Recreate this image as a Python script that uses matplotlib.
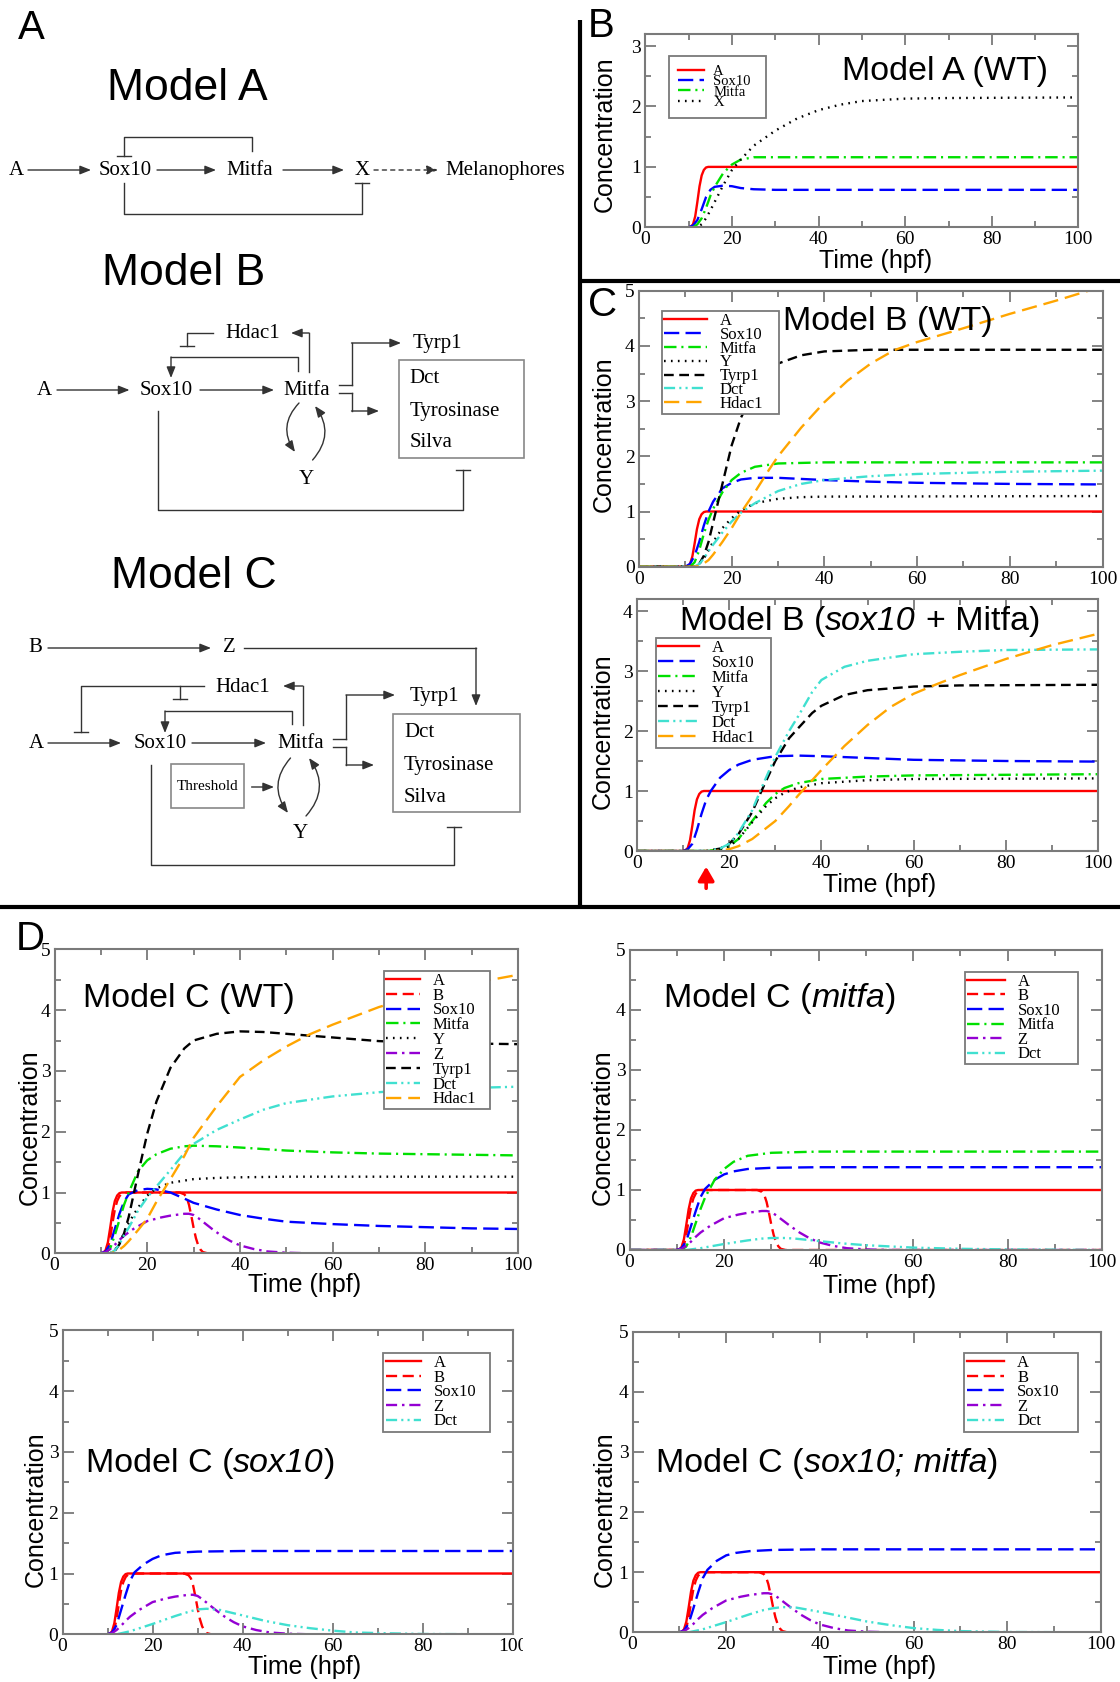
import matplotlib
matplotlib.use("Agg")
import matplotlib.pyplot as plt
from matplotlib.ticker import MultipleLocator, FormatStrFormatter
from matplotlib.patches import Rectangle

plt.rcParams['lines.scale_dashes'] = False
plt.rcParams['font.family'] = 'Liberation Serif'

W, H = 1120, 1682

# ---------------- data (time in hpf, concentration) ----------------
# clamped inputs shared by the models
T_A = [0, 10, 10.5, 11, 11.5, 12, 12.5, 13, 13.5, 14, 14.5, 100]
V_A = [0, 0, 0.01, 0.05, 0.18, 0.42, 0.68, 0.86, 0.95, 0.99, 1.0, 1.0]
T_B = [0, 10.5, 11, 11.5, 12, 12.5, 13, 13.5, 14, 14.5, 15, 27, 28, 28.5, 29, 29.5, 30, 30.5, 31, 31.5, 32, 33, 100]
V_B = [0, 0, 0.02, 0.08, 0.25, 0.5, 0.72, 0.86, 0.94, 0.98, 1.0, 1.0, 0.97, 0.92, 0.8, 0.62, 0.42, 0.25, 0.13, 0.06, 0.02, 0, 0]
T_Z = [0, 10, 11, 12, 13, 14, 15, 17, 20, 23, 25, 28, 29, 30, 31, 32, 34, 36, 38, 40, 43, 46, 50, 55, 100]
V_Z = [0, 0, 0.02, 0.07, 0.14, 0.22, 0.29, 0.4, 0.53, 0.59, 0.62, 0.65, 0.65, 0.63, 0.58, 0.52, 0.4, 0.29, 0.2, 0.13, 0.07, 0.03, 0.01, 0, 0]

# Model A (WT)
TA_SOX = [0, 10, 11, 12, 13, 14, 15, 16, 18, 20, 22, 25, 30, 40, 100]
VA_SOX = [0, 0, 0.03, 0.12, 0.3, 0.5, 0.62, 0.67, 0.69, 0.68, 0.65, 0.63, 0.62, 0.62, 0.62]
TA_MIT = [0, 11, 12, 13, 14, 15, 16, 18, 20, 22, 25, 30, 100]
VA_MIT = [0, 0, 0.05, 0.15, 0.32, 0.52, 0.67, 0.9, 1.04, 1.12, 1.16, 1.16, 1.16]
TA_X = [0, 12, 13, 14, 15, 16, 18, 20, 22, 25, 30, 35, 40, 45, 50, 60, 70, 100]
VA_X = [0, 0, 0.05, 0.15, 0.28, 0.42, 0.7, 0.95, 1.12, 1.35, 1.6, 1.8, 1.94, 2.03, 2.09, 2.13, 2.14, 2.15]

# Model B (WT)
TB_SOX = [0, 10, 11, 12, 13, 14, 15, 16, 18, 20, 22, 25, 30, 35, 40, 50, 60, 80, 100]
VB_SOX = [0, 0, 0.05, 0.2, 0.45, 0.75, 1.0, 1.18, 1.42, 1.52, 1.58, 1.61, 1.61, 1.59, 1.57, 1.54, 1.52, 1.5, 1.49]
TB_MIT = [0, 11, 12, 13, 14, 15, 16, 18, 20, 22, 25, 30, 40, 100]
VB_MIT = [0, 0, 0.08, 0.3, 0.6, 0.85, 1.05, 1.35, 1.57, 1.7, 1.81, 1.87, 1.89, 1.89]
TB_Y = [0, 12, 13, 14, 15, 16, 18, 20, 22, 25, 30, 35, 40, 100]
VB_Y = [0, 0, 0.05, 0.15, 0.3, 0.45, 0.7, 0.88, 1.02, 1.15, 1.23, 1.26, 1.27, 1.28]
TB_TYR = [0, 12, 13, 14, 15, 16, 17, 18, 20, 22, 25, 28, 30, 35, 40, 50, 60, 100]
VB_TYR = [0, 0, 0.05, 0.2, 0.45, 0.8, 1.15, 1.5, 2.2, 2.7, 3.2, 3.55, 3.68, 3.83, 3.9, 3.93, 3.93, 3.93]
TB_DCT = [0, 12, 13, 14, 15, 16, 18, 20, 22, 25, 30, 35, 40, 50, 60, 70, 80, 100]
VB_DCT = [0, 0, 0.05, 0.15, 0.28, 0.4, 0.62, 0.82, 0.98, 1.15, 1.37, 1.5, 1.57, 1.64, 1.68, 1.7, 1.72, 1.74]
TB_HDAC = [0, 12, 13, 14, 15, 16, 18, 20, 22, 25, 28, 30, 35, 40, 45, 50, 55, 60, 70, 80, 90, 97, 100]
VB_HDAC = [0, 0, 0.02, 0.06, 0.12, 0.22, 0.45, 0.7, 0.98, 1.35, 1.75, 2.0, 2.52, 2.98, 3.37, 3.68, 3.92, 4.07, 4.32, 4.58, 4.82, 5.0, 5.05]

# Model B (sox10 + Mitfa)
TR_SOX = [0, 10, 11, 12, 13, 14, 15, 16, 18, 20, 22, 25, 30, 35, 40, 50, 60, 80, 100]
VR_SOX = [0, 0, 0.03, 0.12, 0.35, 0.62, 0.85, 1.0, 1.22, 1.35, 1.44, 1.52, 1.58, 1.59, 1.58, 1.55, 1.52, 1.5, 1.49]
TR_MIT = [0, 15, 18, 20, 22, 25, 28, 30, 32, 35, 40, 50, 60, 100]
VR_MIT = [0, 0, 0.03, 0.08, 0.2, 0.5, 0.8, 0.95, 1.05, 1.13, 1.2, 1.24, 1.26, 1.28]
TR_Y = [0, 15, 18, 20, 22, 25, 28, 30, 32, 35, 40, 50, 60, 100]
VR_Y = [0, 0, 0.03, 0.08, 0.2, 0.48, 0.75, 0.88, 0.97, 1.06, 1.13, 1.18, 1.2, 1.21]
TR_TYR = [0, 15, 18, 20, 22, 25, 27, 30, 33, 35, 38, 40, 45, 50, 60, 70, 100]
VR_TYR = [0, 0, 0.04, 0.12, 0.28, 0.65, 1.0, 1.5, 1.88, 2.05, 2.3, 2.42, 2.6, 2.68, 2.74, 2.76, 2.77]
TR_DCT = [0, 15, 18, 20, 22, 25, 27, 30, 33, 35, 38, 40, 45, 50, 60, 70, 80, 100]
VR_DCT = [0, 0, 0.04, 0.12, 0.3, 0.68, 1.05, 1.57, 2.0, 2.25, 2.65, 2.85, 3.07, 3.17, 3.28, 3.32, 3.35, 3.36]
TR_HDAC = [0, 17, 20, 22, 25, 28, 30, 33, 35, 38, 40, 45, 50, 55, 60, 65, 70, 80, 90, 100]
VR_HDAC = [0, 0, 0.03, 0.08, 0.2, 0.38, 0.5, 0.75, 0.93, 1.18, 1.35, 1.75, 2.1, 2.4, 2.62, 2.78, 2.93, 3.2, 3.43, 3.62]

# Model C (WT)
TC_SOX = [0, 10, 11, 12, 13, 14, 15, 16, 18, 20, 22, 25, 28, 30, 35, 40, 45, 50, 60, 70, 80, 90, 100]
VC_SOX = [0, 0, 0.03, 0.15, 0.4, 0.65, 0.85, 0.97, 1.04, 1.06, 1.05, 1.0, 0.9, 0.83, 0.72, 0.63, 0.57, 0.52, 0.48, 0.45, 0.43, 0.41, 0.40]
TC_MIT = [0, 11, 12, 13, 14, 15, 16, 18, 20, 22, 25, 28, 30, 35, 40, 50, 60, 70, 80, 100]
VC_MIT = [0, 0, 0.08, 0.3, 0.55, 0.8, 1.0, 1.35, 1.53, 1.63, 1.72, 1.76, 1.77, 1.76, 1.74, 1.69, 1.66, 1.64, 1.63, 1.61]
TC_Y = [0, 12, 13, 14, 15, 16, 18, 20, 22, 25, 30, 35, 40, 50, 100]
VC_Y = [0, 0, 0.05, 0.18, 0.33, 0.5, 0.75, 0.95, 1.07, 1.16, 1.22, 1.24, 1.25, 1.26, 1.26]
TC_TYR = [0, 12, 13, 14, 15, 16, 17, 18, 20, 22, 25, 28, 30, 35, 40, 45, 50, 55, 60, 70, 80, 90, 100]
VC_TYR = [0, 0, 0.04, 0.15, 0.33, 0.6, 0.95, 1.3, 1.97, 2.5, 3.05, 3.37, 3.5, 3.61, 3.65, 3.64, 3.61, 3.58, 3.55, 3.49, 3.46, 3.45, 3.44]
TC_DCT = [0, 12, 13, 14, 15, 16, 18, 20, 22, 25, 28, 30, 35, 40, 45, 50, 60, 70, 80, 90, 100]
VC_DCT = [0, 0, 0.05, 0.15, 0.3, 0.42, 0.7, 0.92, 1.1, 1.37, 1.65, 1.8, 2.03, 2.2, 2.36, 2.47, 2.58, 2.65, 2.7, 2.72, 2.74]
TC_HDAC = [0, 12, 13, 14, 15, 16, 18, 20, 22, 25, 28, 30, 35, 40, 45, 50, 55, 60, 70, 80, 90, 100]
VC_HDAC = [0, 0, 0.02, 0.06, 0.12, 0.2, 0.38, 0.57, 0.85, 1.22, 1.6, 1.9, 2.42, 2.9, 3.17, 3.4, 3.6, 3.76, 4.05, 4.27, 4.44, 4.58]

# Model C (mitfa)
TM_SOX = [0, 10, 11, 12, 13, 14, 15, 16, 18, 20, 22, 25, 30, 40, 100]
VM_SOX = [0, 0, 0.03, 0.15, 0.4, 0.65, 0.88, 1.02, 1.17, 1.26, 1.31, 1.35, 1.37, 1.38, 1.38]
TM_MIT = [0, 11, 12, 13, 14, 15, 16, 18, 20, 22, 25, 30, 40, 100]
VM_MIT = [0, 0, 0.06, 0.22, 0.45, 0.68, 0.88, 1.17, 1.35, 1.47, 1.57, 1.62, 1.64, 1.64]
TM_DCT = [0, 12, 15, 20, 25, 28, 30, 33, 35, 40, 45, 50, 55, 60, 70, 80, 100]
VM_DCT = [0, 0, 0.03, 0.1, 0.16, 0.19, 0.2, 0.2, 0.19, 0.15, 0.11, 0.08, 0.06, 0.04, 0.02, 0.01, 0]

# Model C (sox10)
TS_SOX = [0, 10, 11, 12, 13, 14, 15, 16, 18, 20, 22, 25, 30, 40, 100]
VS_SOX = [0, 0, 0.03, 0.15, 0.4, 0.65, 0.88, 1.02, 1.15, 1.24, 1.3, 1.34, 1.36, 1.37, 1.37]
TS_DCT = [0, 12, 15, 20, 25, 28, 30, 32, 35, 40, 45, 50, 55, 60, 65, 70, 80, 100]
VS_DCT = [0, 0, 0.05, 0.17, 0.3, 0.37, 0.41, 0.42, 0.4, 0.31, 0.22, 0.15, 0.1, 0.06, 0.03, 0.02, 0.005, 0]

# Model C (sox10; mitfa)
TD_SOX = [0, 10, 11, 12, 13, 14, 15, 16, 18, 20, 22, 25, 30, 40, 100]
VD_SOX = [0, 0, 0.03, 0.15, 0.4, 0.66, 0.9, 1.04, 1.19, 1.28, 1.32, 1.35, 1.37, 1.38, 1.38]
TD_DCT = [0, 12, 15, 20, 25, 28, 30, 32, 35, 40, 45, 50, 55, 60, 65, 70, 80, 100]
VD_DCT = [0, 0, 0.05, 0.17, 0.3, 0.37, 0.4, 0.42, 0.41, 0.34, 0.26, 0.18, 0.12, 0.07, 0.04, 0.02, 0.005, 0]

# ---------------- styles ----------------
RED, BLUE, GREEN = '#ff0000', '#0000ff', '#00e000'
PURPLE, CYAN, ORANGE = '#9400d3', '#40e0d0', '#ffa500'
STY = {
    'A': dict(color=RED, ls='-'),
    'B': dict(color=RED, ls=(0, (8, 4))),
    'Sox10': dict(color=BLUE, ls=(0, (11, 4.5))),
    'Mitfa': dict(color=GREEN, ls=(0, (9, 3.5, 1.5, 3.5))),
    'X': dict(color='black', ls=(0, (1.2, 3.8))),
    'Y': dict(color='black', ls=(0, (1.2, 3.8))),
    'Z': dict(color=PURPLE, ls=(0, (8, 3.5, 1.8, 3.5))),
    'Tyrp1': dict(color='black', ls=(0, (7, 4))),
    'Dct': dict(color=CYAN, ls=(0, (8, 3, 1.5, 3, 1.5, 3))),
    'Hdac1': dict(color=ORANGE, ls=(0, (11, 5))),
}
LW = 1.7
FRAME = '#7a7a7a'
SANS = 'Liberation Sans'

fig = plt.figure(figsize=(W / 100, H / 100), dpi=100)
fig.patch.set_facecolor('white')


def px_axes(rect):
    l, t, r, b = rect
    return fig.add_axes([l / W, 1 - b / H, (r - l) / W, (b - t) / H])


def style_axes(ax, ymax):
    ax.set_xlim(0, 100)
    ax.set_ylim(0, ymax)
    ax.xaxis.set_major_locator(MultipleLocator(20))
    ax.xaxis.set_minor_locator(MultipleLocator(10))
    ax.yaxis.set_major_locator(MultipleLocator(1))
    ax.yaxis.set_minor_locator(MultipleLocator(0.5))
    ax.xaxis.set_major_formatter(FormatStrFormatter('%d'))
    ax.yaxis.set_major_formatter(FormatStrFormatter('%d'))
    ax.tick_params(which='both', direction='in', top=True, right=True,
                   color=FRAME, width=1.3, labelsize=14, pad=3)
    ax.tick_params(which='major', length=8)
    ax.tick_params(which='minor', length=4.5)
    for sp in ax.spines.values():
        sp.set_color(FRAME)
        sp.set_linewidth(1.5)


def draw(ax, series):
    for name, t, v in series:
        ax.plot(t, v, label=name, lw=LW, **STY[name])


def legend_px(ax, rect, box, fs, hl_px, gap_px, ls, bp):
    l, t, r, b = rect
    bl, bt, br, bb = box
    fpx = fs * 100 / 72
    x0 = (bl - l) / (r - l)
    w = (br - bl) / (r - l)
    ytop = (b - bt) / (b - t)
    leg = ax.legend(loc='upper left', bbox_to_anchor=(x0, ytop - 0.01, w, 0.01),
                    mode='expand', borderaxespad=0,
                    prop={'family': 'Liberation Serif', 'size': fs},
                    handlelength=hl_px / fpx, handletextpad=gap_px / fpx,
                    labelspacing=ls, borderpad=bp, frameon=True, fancybox=False,
                    edgecolor=FRAME, framealpha=1)
    leg.get_frame().set_linewidth(1.3)
    return leg


# B : Model A (WT)
R_B = (645.4, 34, 1078.4, 227.3)
ax = px_axes(R_B)
style_axes(ax, 3.2)
draw(ax, [('A', T_A, V_A), ('Sox10', TA_SOX, VA_SOX), ('Mitfa', TA_MIT, VA_MIT), ('X', TA_X, VA_X)])
legend_px(ax, R_B, (669.5, 56, 766, 119), 10.5, 26, 9, -0.2, 0.6)

# C top : Model B (WT)
R_C1 = (639, 290.7, 1102.5, 566.7)
ax = px_axes(R_C1)
style_axes(ax, 5)
draw(ax, [('A', T_A, V_A), ('Sox10', TB_SOX, VB_SOX), ('Mitfa', TB_MIT, VB_MIT), ('Y', TB_Y, VB_Y),
          ('Tyrp1', TB_TYR, VB_TYR), ('Dct', TB_DCT, VB_DCT), ('Hdac1', TB_HDAC, VB_HDAC)])
legend_px(ax, R_C1, (661.6, 310.7, 778.7, 411.7), 12, 43, 13, -0.125, 0.12)

# C bottom : Model B (sox10 + Mitfa)
R_C2 = (637, 599, 1098, 851)
ax_c2 = px_axes(R_C2)
style_axes(ax_c2, 4.2)
draw(ax_c2, [('A', T_A, V_A), ('Sox10', TR_SOX, VR_SOX), ('Mitfa', TR_MIT, VR_MIT), ('Y', TR_Y, VR_Y),
             ('Tyrp1', TR_TYR, VR_TYR), ('Dct', TR_DCT, VR_DCT), ('Hdac1', TR_HDAC, VR_HDAC)])
legend_px(ax_c2, R_C2, (656, 638, 771, 746), 12, 41, 13, -0.06, 0.12)
ax_c2.annotate('', xy=(15, -0.062), xytext=(15, -0.148),
               xycoords=('data', 'axes fraction'), textcoords=('data', 'axes fraction'),
               annotation_clip=False,
               arrowprops=dict(arrowstyle='-|>,head_length=0.55,head_width=0.32',
                               color='red', lw=2.6, shrinkA=0, shrinkB=0, mutation_scale=15))

# D : Model C (WT)
R_D1 = (54.6, 949.3, 517.9, 1253.3)
ax = px_axes(R_D1)
style_axes(ax, 5)
draw(ax, [('A', T_A, V_A), ('B', T_B, V_B), ('Sox10', TC_SOX, VC_SOX), ('Mitfa', TC_MIT, VC_MIT),
          ('Y', TC_Y, VC_Y), ('Z', T_Z, V_Z), ('Tyrp1', TC_TYR, VC_TYR), ('Dct', TC_DCT, VC_DCT),
          ('Hdac1', TC_HDAC, VC_HDAC)])
legend_px(ax, R_D1, (384, 970.7, 490, 1110), 12, 34, 13, -0.07, 0.12)

# D : Model C (mitfa)
R_D2 = (629.6, 950, 1102, 1250)
ax = px_axes(R_D2)
style_axes(ax, 5)
draw(ax, [('A', T_A, V_A), ('B', T_B, V_B), ('Sox10', TM_SOX, VM_SOX), ('Mitfa', TM_MIT, VM_MIT),
          ('Z', T_Z, V_Z), ('Dct', TM_DCT, VM_DCT)])
legend_px(ax, R_D2, (965, 971.7, 1078, 1062.3), 12, 37.6, 13, -0.087, 0.12)

# D : Model C (sox10)
R_D3 = (62.5, 1330.3, 513, 1634.3)
ax = px_axes(R_D3)
style_axes(ax, 5)
draw(ax, [('A', T_A, V_A), ('B', T_B, V_B), ('Sox10', TS_SOX, VS_SOX), ('Z', T_Z, V_Z), ('Dct', TS_DCT, VS_DCT)])
legend_px(ax, R_D3, (383, 1352.7, 490, 1429.3), 12, 35, 13, -0.087, 0.15)

# D : Model C (sox10; mitfa)
R_D4 = (632.5, 1331.7, 1101, 1632.3)
ax = px_axes(R_D4)
style_axes(ax, 5)
draw(ax, [('A', T_A, V_A), ('B', T_B, V_B), ('Sox10', TD_SOX, VD_SOX), ('Z', T_Z, V_Z), ('Dct', TD_DCT, VD_DCT)])
legend_px(ax, R_D4, (964, 1352.7, 1077.5, 1429.3), 12, 37.7, 13, -0.087, 0.15)

# ---------------- overlay (labels, dividers, diagrams) ----------------
ov = fig.add_axes([0, 0, 1, 1])
ov.set_xlim(0, W)
ov.set_ylim(H, 0)
ov.axis('off')
ov.set_facecolor('none')
renderer = fig.canvas.get_renderer()

TFS = 24.5


def width_of(s, style):
    t = ov.text(0, 0, s, fontsize=TFS, fontfamily=SANS, style=style)
    w = t.get_window_extent(renderer).width
    t.remove()
    return w


SPACE = width_of('a a', 'normal') - width_of('aa', 'normal')


def rich_title(x, y, parts):
    # parts: (text, italic, leading spaces)
    for s, ital, lead in parts:
        st = 'italic' if ital else 'normal'
        x += lead * SPACE
        t = ov.text(x, y, s, fontsize=TFS, fontfamily=SANS, style=st, ha='left', va='baseline')
        x += t.get_window_extent(renderer).width


rich_title(842, 80, [('Model A (WT)', False, 0)])
rich_title(783, 330, [('Model B (WT)', False, 0)])
rich_title(680, 630, [('Model B (', False, 0), ('sox10', True, 0), ('+ Mitfa)', False, 1)])
rich_title(83, 1007, [('Model C (WT)', False, 0)])
rich_title(663.5, 1007, [('Model C (', False, 0), ('mitfa', True, 0), (')', False, 0)])
rich_title(85.7, 1472, [('Model C (', False, 0), ('sox10', True, 0), (')', False, 0)])
rich_title(656, 1472, [('Model C (', False, 0), ('sox10; mitfa', True, 0), (')', False, 0)])

for x, y in [(605, 134), (604, 434), (602.5, 731), (30, 1127), (603, 1127), (35.7, 1509), (604.5, 1509)]:
    ov.text(x, y, 'Concentration', rotation=90, fontsize=18, fontfamily=SANS, ha='center', va='center')
for x, y in [(876, 261), (880, 885), (305, 1285), (880, 1286), (305, 1667), (880, 1667)]:
    ov.text(x, y, 'Time (hpf)', fontsize=18, fontfamily=SANS, ha='center', va='center')

# clipped edge of the lower-left panel in the source composite
ov.add_patch(Rectangle((523, 1636), 40, 22, facecolor='white', edgecolor='none'))

# panel letters
for x, y, s in [(31, 28, 'A'), (601, 26, 'B'), (603, 305, 'C'), (30, 939, 'D')]:
    ov.text(x, y, s, fontsize=29, fontfamily=SANS, ha='center', va='center')

# dividers
ov.plot([580, 580], [20, 907], color='black', lw=3, solid_capstyle='butt')
ov.plot([580, W], [281, 281], color='black', lw=3, solid_capstyle='butt')
ov.plot([0, W], [907, 907], color='black', lw=3, solid_capstyle='butt')

# diagrams
LC = '#333333'
NODE = 15


def txt(x, y, s, size=NODE, ha='center'):
    ov.text(x, y, s, fontsize=size, fontfamily='Liberation Serif', ha=ha, va='center')


def seg(pts, ls='-'):
    xs, ys = zip(*pts)
    ov.plot(xs, ys, color=LC, lw=1.0, ls=ls)


def arr(pts, ls='-'):
    if len(pts) > 2:
        seg(pts[:-1])
    ov.annotate('', xy=pts[-1], xytext=pts[-2],
                arrowprops=dict(arrowstyle='-|>,head_length=0.55,head_width=0.22', color=LC,
                                lw=1.0, ls=ls, shrinkA=0, shrinkB=0, mutation_scale=12))


def tbar(x, y, half=7):
    ov.plot([x - half, x + half], [y, y], color=LC, lw=1.0)


def curve(p0, p1, rad=0.4):
    ov.annotate('', xy=p1, xytext=p0,
                arrowprops=dict(arrowstyle='-|>,head_length=0.55,head_width=0.22', color=LC, lw=1.0,
                                connectionstyle='arc3,rad=%s' % rad, shrinkA=0, shrinkB=0,
                                mutation_scale=12))


def box(l, t, r, b):
    ov.add_patch(Rectangle((l, t), r - l, b - t, facecolor='none', edgecolor='#888888', lw=1.2))


for x, y, s in [(107, 100, 'Model A'), (102, 285, 'Model B'), (111, 588, 'Model C')]:
    ov.text(x, y, s, fontsize=32, fontfamily=SANS, ha='left', va='baseline')

# Model A
r = 170
txt(16, r, 'A'); arr([(28, r), (91, r)])
txt(125, r, 'Sox10'); arr([(157, r), (216, r)])
txt(250, r, 'Mitfa'); arr([(283, r), (344, r)])
txt(362, r, 'X'); arr([(374, r), (438, r)], ls=(0, (3, 3)))
txt(505, r, 'Melanophores')
seg([(252, 151), (252, 137), (124, 137), (124, 156)]); tbar(124, 156)
seg([(124, 183), (124, 214), (361.5, 214), (361.5, 183)]); tbar(361.5, 183)

# Model B
r = 390
txt(44, r, 'A'); arr([(57, r), (129.5, r)])
txt(166, r, 'Sox10'); arr([(200, r), (274, r)])
txt(306.5, r, 'Mitfa')
txt(253, 333, 'Hdac1')
arr([(309, 372), (309, 333), (291, 333)])
seg([(213, 333), (187, 333), (187, 346)]); tbar(187, 346)
arr([(298, 371), (298, 357), (171, 357), (171, 378)])
seg([(338.5, 385), (351.5, 385)]); arr([(351.5, 385), (351.5, 343), (401, 343)])
seg([(338.5, 393), (351.5, 393)]); arr([(351.5, 393), (351.5, 411), (379, 411)])
txt(437.5, 343, 'Tyrp1')
box(398.5, 360, 524, 458)
txt(409.6, 378, 'Dct', ha='left'); txt(409.6, 411, 'Tyrosinase', ha='left'); txt(409.6, 442, 'Silva', ha='left')
txt(306, 479, 'Y')
curve((299, 403), (295, 452)); curve((312.6, 460), (315, 406))
seg([(158, 411), (158, 510), (462.5, 510), (462.5, 470)]); tbar(462.5, 470)

# Model C
txt(35, 648, 'B'); arr([(48, 648), (211, 648)])
txt(229.5, 648, 'Z'); arr([(244, 648), (476, 648), (476, 706)])
txt(243, 687, 'Hdac1')
arr([(302.7, 725), (302.7, 686), (283, 686)])
seg([(203.5, 686), (80.7, 686), (80.7, 731.7)]); tbar(80.7, 731.7)
seg([(179.5, 686), (179.5, 699)]); tbar(179.5, 699)
r = 743
txt(36, r, 'A'); arr([(48, r), (121, r)])
txt(160, r, 'Sox10'); arr([(192, r), (266, r)])
txt(301, r, 'Mitfa')
arr([(292, 724), (292, 711), (165, 711), (165, 733)])
seg([(333, 739), (346, 739)]); arr([(346, 739), (346, 695), (395, 695)])
seg([(333, 747), (346, 747)]); arr([(346, 747), (346, 765), (374, 765)])
txt(434, 696, 'Tyrp1')
box(393, 714, 520, 812)
txt(404, 732, 'Dct', ha='left'); txt(404, 765, 'Tyrosinase', ha='left'); txt(404, 797, 'Silva', ha='left')
box(171, 764, 244, 808)
txt(207.5, 786, 'Threshold', size=11)
arr([(251.6, 787), (274, 787)])
curve((290.5, 758), (288, 813)); curve((306, 816), (309, 758))
txt(300.4, 833, 'Y')
seg([(150.6, 765), (150.6, 865), (454, 865), (454, 827)]); tbar(454, 827)

fig.savefig('out.png', dpi=100, facecolor='white')
